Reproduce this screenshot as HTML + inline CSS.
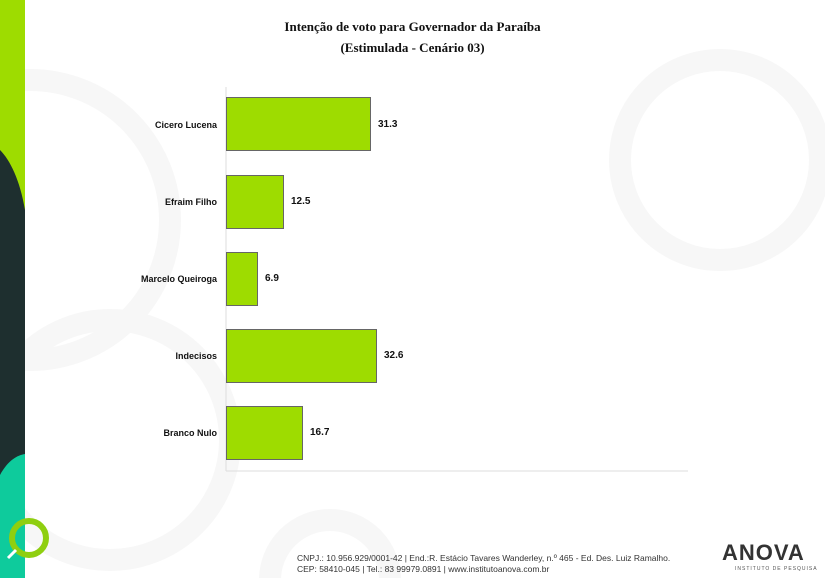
<!DOCTYPE html>
<html><head><meta charset="utf-8"><style>
html,body{margin:0;width:825px;height:578px;overflow:hidden}
body{background:#fff;position:relative;font-family:"Liberation Sans",Arial,sans-serif}
.a{position:absolute}
.bar{position:absolute;left:226px;height:54px;background:#9edc00;border:1px solid #666;box-sizing:border-box}
.lab{position:absolute;right:608px;font-size:9px;font-weight:bold;color:#111;text-align:right;white-space:nowrap}
.val{position:absolute;font-size:10px;font-weight:bold;color:#111}
</style></head><body>
<svg class="a" style="left:0;top:0" width="825" height="578">
<g fill="none" stroke="#f7f7f7" stroke-width="22">
<circle cx="30" cy="220" r="140"/>
<circle cx="110" cy="440" r="120"/>
<circle cx="720" cy="160" r="100"/>
<circle cx="330" cy="580" r="60"/>
</g>
<path d="M0 0H25V578H0Z" fill="#1e2f2f"/>
<path d="M0 0H25V210C20 180 10 160 0 150Z" fill="#9edc00"/>
<path d="M0 475C8 460 18 455 25 454V578H0Z" fill="#0ecb9c"/>
<circle cx="29" cy="538" r="17" fill="none" stroke="#8fcf10" stroke-width="6"/>
<line x1="16" y1="550" x2="8" y2="558" stroke="#fff" stroke-width="3"/>
<line x1="226" y1="87" x2="226" y2="471" stroke="#ddd"/>
<line x1="226" y1="471" x2="688" y2="471" stroke="#ddd"/>
</svg>
<div class="a" style="left:0;width:825px;top:16px;text-align:center;font-family:'Liberation Serif',serif;font-weight:bold;font-size:13px;line-height:21px;color:#111">Intenção de voto para Governador da Paraíba<br>(Estimulada - Cenário 03)</div>
<div class="bar" style="top:97px;width:145px"></div><div class="lab" style="top:120px">Cicero Lucena</div><div class="val" style="left:378px;top:119px">31.3</div>
<div class="bar" style="top:175px;width:58px"></div><div class="lab" style="top:197px">Efraim Filho</div><div class="val" style="left:291px;top:196px">12.5</div>
<div class="bar" style="top:252px;width:32px"></div><div class="lab" style="top:274px">Marcelo Queiroga</div><div class="val" style="left:265px;top:273px">6.9</div>
<div class="bar" style="top:329px;width:151px"></div><div class="lab" style="top:351px">Indecisos</div><div class="val" style="left:384px;top:350px">32.6</div>
<div class="bar" style="top:406px;width:77px"></div><div class="lab" style="top:428px">Branco Nulo</div><div class="val" style="left:310px;top:427px">16.7</div>
<div class="a" style="left:297px;top:553px;font-size:8.5px;line-height:11px;color:#333;white-space:nowrap">CNPJ.: 10.956.929/0001-42 | End.:R. Estácio Tavares Wanderley, n.º 465 - Ed. Des. Luiz Ramalho.<br>CEP: 58410-045 | Tel.: 83 99979.0891 | www.institutoanova.com.br</div>
<div class="a" style="left:722px;top:542px;font-size:22px;line-height:22px;font-weight:bold;color:#333;letter-spacing:1px">ANOVA</div>
<div class="a" style="left:735px;top:566px;font-size:5px;line-height:6px;color:#555;letter-spacing:1px;white-space:nowrap">INSTITUTO DE PESQUISA</div>
</body></html>
